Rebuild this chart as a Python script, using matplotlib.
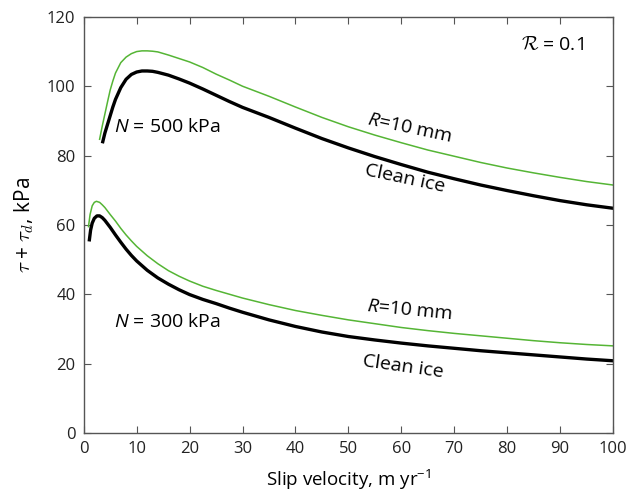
import matplotlib
matplotlib.use('Agg')
import matplotlib.pyplot as plt

# N = 500 kPa, clean ice
v_500_clean = [3.6, 4.0, 4.5, 5.0, 5.5, 6.0, 7.0, 8.0, 9.0, 10.0, 11.0, 12.0, 13.0, 14.0, 16.0, 18.0,
               20.0, 22.5, 25.0, 27.5, 30.0, 35.0, 40.0, 45.0, 50.0, 55.0, 60.0, 65.0, 70.0, 75.0,
               80.0, 85.0, 90.0, 95.0, 100.0]
t_500_clean = [84.0, 86.5, 89.0, 91.5, 94.0, 96.2, 99.6, 102.0, 103.4, 104.1, 104.4, 104.4, 104.3, 104.0,
               103.2, 102.1, 100.9, 99.2, 97.4, 95.6, 93.9, 91.0, 87.9, 84.9, 82.2, 79.7, 77.4, 75.2,
               73.3, 71.5, 69.9, 68.4, 67.0, 65.8, 64.8]

# N = 500 kPa, R = 10 mm
v_500_r10 = [3.0, 3.5, 4.0, 4.5, 5.0, 5.5, 6.0, 7.0, 8.0, 9.0, 10.0, 11.0, 12.0, 13.0, 14.0, 16.0, 18.0,
             20.0, 22.5, 25.0, 27.5, 30.0, 35.0, 40.0, 45.0, 50.0, 55.0, 60.0, 65.0, 70.0, 75.0,
             80.0, 85.0, 90.0, 95.0, 100.0]
t_500_r10 = [84.7, 88.5, 92.0, 95.5, 98.9, 101.5, 103.8, 106.8, 108.4, 109.4, 110.0, 110.2, 110.2, 110.1,
             109.9, 109.0, 108.0, 107.0, 105.4, 103.5, 101.8, 100.0, 97.1, 94.0, 91.0, 88.3, 85.9, 83.7,
             81.6, 79.8, 78.0, 76.4, 75.0, 73.7, 72.5, 71.5]

# N = 300 kPa, clean ice
v_300_clean = [1.07, 1.3, 1.6, 2.0, 2.5, 3.0, 3.5, 4.0, 5.0, 6.0, 7.0, 8.0, 9.0, 10.0, 12.0, 14.0, 16.0,
               18.0, 20.0, 22.5, 25.0, 27.5, 30.0, 35.0, 40.0, 45.0, 50.0, 55.0, 60.0, 65.0, 70.0,
               75.0, 80.0, 85.0, 90.0, 95.0, 100.0]
t_300_clean = [55.7, 58.5, 60.5, 61.9, 62.6, 62.6, 62.1, 61.3, 59.3, 57.1, 55.0, 53.0, 51.2, 49.6, 46.9,
               44.7, 42.9, 41.3, 39.9, 38.5, 37.3, 36.0, 34.8, 32.6, 30.7, 29.1, 27.8, 26.8, 25.9,
               25.1, 24.4, 23.7, 23.1, 22.5, 21.9, 21.3, 20.8]

# N = 300 kPa, R = 10 mm
v_300_r10 = [0.9, 1.2, 1.6, 2.0, 2.4, 3.0, 3.5, 4.0, 5.0, 6.0, 7.0, 8.0, 9.0, 10.0, 12.0, 14.0, 16.0,
             18.0, 20.0, 22.5, 25.0, 27.5, 30.0, 35.0, 40.0, 45.0, 50.0, 55.0, 60.0, 65.0, 70.0,
             75.0, 80.0, 85.0, 90.0, 95.0, 100.0]
t_300_r10 = [59.5, 63.0, 65.5, 66.5, 66.8, 66.5, 65.8, 65.0, 63.0, 61.1, 59.0, 57.1, 55.4, 53.8, 51.1,
             48.8, 46.8, 45.2, 43.8, 42.3, 41.1, 40.0, 38.9, 37.0, 35.3, 33.9, 32.6, 31.5, 30.4,
             29.5, 28.7, 28.0, 27.3, 26.6, 26.0, 25.5, 25.1]

x_ticks = list(range(0, 101, 10))
y_ticks = list(range(0, 121, 20))

plt.rcParams['font.family'] = ['Open Sans', 'DejaVu Sans']
plt.rcParams['mathtext.fontset'] = 'custom'
plt.rcParams['mathtext.rm'] = 'Open Sans'
plt.rcParams['mathtext.it'] = 'Open Sans:italic'

fig = plt.figure(figsize=(6.44, 4.97), dpi=100)
ax = fig.add_axes([0.130, 0.129, 0.822, 0.837])

green = '#55b535'
ax.plot(v_500_r10, t_500_r10, color=green, lw=1.1)
ax.plot(v_500_clean, t_500_clean, color='black', lw=2.4)
ax.plot(v_300_r10, t_300_r10, color=green, lw=1.1)
ax.plot(v_300_clean, t_300_clean, color='black', lw=2.4)

ax.set_xlim(0, 100)
ax.set_ylim(0, 120)
ax.set_xticks(x_ticks)
ax.set_yticks(y_ticks)
ax.tick_params(direction='in', top=True, right=True, length=5, color='#555555',
               labelsize=12, labelcolor='#222222', pad=6)
for s in ax.spines.values():
    s.set_color('#555555')
    s.set_linewidth(1.0)

ax.set_xlabel(r'Slip velocity, m yr$^{-1}$', fontsize=13.5, labelpad=8)
ax.set_ylabel(r'$\tau$ + $\tau_d$, kPa', fontsize=15, labelpad=8, math_fontfamily='cm')

fs = 14
ax.text(15.8, 88.3, r'$N$ = 500 kPa', fontsize=fs, ha='center', va='center')
ax.text(15.8, 32.0, r'$N$ = 300 kPa', fontsize=fs, ha='center', va='center')
ax.text(61.6, 88.0, r'$R$=10 mm', fontsize=fs, ha='center', va='center', rotation=-12)
ax.text(60.7, 73.5, 'Clean ice', fontsize=fs, ha='center', va='center', rotation=-12)
ax.text(61.6, 35.5, r'$R$=10 mm', fontsize=fs, ha='center', va='center', rotation=-5.5)
ax.text(60.3, 19.0, 'Clean ice', fontsize=fs, ha='center', va='center', rotation=-8)
ax.text(88.5, 111.9, r'$\mathcal{R}$ = 0.1', fontsize=fs, ha='center', va='center',
        math_fontfamily='cm')

plt.savefig('out.png', dpi=100)
plt.close()
